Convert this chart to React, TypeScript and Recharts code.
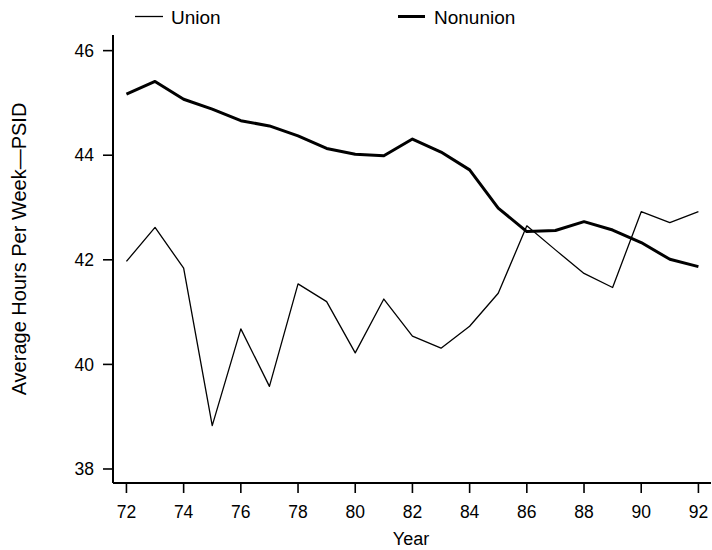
import React from 'react';
import { LineChart, Line, XAxis, YAxis } from 'recharts';

const years = [72, 73, 74, 75, 76, 77, 78, 79, 80, 81, 82, 83, 84, 85, 86, 87, 88, 89, 90, 91, 92];
const unionHours = [41.97, 42.62, 41.84, 38.83, 40.68, 39.58, 41.54, 41.2, 40.22, 41.25, 40.54, 40.31, 40.73, 41.36, 42.65, 42.19, 41.74, 41.47, 42.92, 42.71, 42.92];
const nonunionHours = [45.17, 45.41, 45.07, 44.88, 44.66, 44.56, 44.37, 44.13, 44.02, 43.99, 44.31, 44.06, 43.72, 42.99, 42.54, 42.56, 42.73, 42.57, 42.33, 42.01, 41.87];
const xTicks = [72, 74, 76, 78, 80, 82, 84, 86, 88, 90, 92];
const yTicks = [38, 40, 42, 44, 46];
const seriesNames = ['Union', 'Nonunion'];
const xTitle = 'Year';
const yTitle = 'Average Hours Per Week\u2014PSID';

const data = years.map((y, i) => ({ year: y, union: unionHours[i], nonunion: nonunionHours[i] }));

const FONT = '"Liberation Sans", Arial, Helvetica, sans-serif';

const YTitle = (props: any) => {
  const vb = props.viewBox || { x: 53, y: 35, width: 60, height: 448 };
  const cx = vb.x - 34;
  const cy = vb.y + vb.height / 2 - 10;
  return (
    <text x={cx} y={cy} transform={`rotate(-90 ${cx} ${cy})`} textAnchor="middle" dominantBaseline="central"
      fontSize={20} fontFamily={FONT} fill="#000">{yTitle}</text>
  );
};

const XTitle = (props: any) => {
  const vb = props.viewBox || { x: 113, y: 483, width: 598, height: 67 };
  const cx = vb.x + vb.width / 2 - 1;
  const cy = vb.y + vb.height - 5;
  return (
    <text x={cx} y={cy} textAnchor="middle" fontSize={18} fontFamily={FONT} fill="#000">{xTitle}</text>
  );
};

export default function App() {
  return (
    <div style={{ position: 'absolute', left: 0, top: 0, width: 712, height: 550, background: '#fff' }}>
      <LineChart width={712} height={550} data={data} margin={{ top: 35, right: 1, left: 53, bottom: 0 }}>
        <XAxis
          dataKey="year"
          type="number"
          domain={[71.53, 92.44]}
          allowDataOverflow
          ticks={xTicks}
          height={67}
          tickSize={10}
          tickMargin={13}
          axisLine={{ stroke: '#000', strokeWidth: 2 }}
          tickLine={{ stroke: '#000', strokeWidth: 1.6 }}
          tick={{ fill: '#000', fontSize: 17.5, fontFamily: FONT }}
          label={<XTitle />}
        />
        <YAxis
          type="number"
          domain={[37.732, 46.299]}
          allowDataOverflow
          ticks={yTicks}
          width={60}
          tickSize={10}
          tickMargin={9}
          axisLine={{ stroke: '#000', strokeWidth: 2 }}
          tickLine={{ stroke: '#000', strokeWidth: 1.6 }}
          tick={{ fill: '#000', fontSize: 17.5, fontFamily: FONT }}
          label={<YTitle />}
        />
        <Line type="linear" dataKey="union" name={seriesNames[0]} stroke="#000" strokeWidth={1.3} dot={false} isAnimationActive={false} strokeLinejoin="round" />
        <Line type="linear" dataKey="nonunion" name={seriesNames[1]} stroke="#000" strokeWidth={3} dot={false} isAnimationActive={false} strokeLinejoin="round" />
      </LineChart>
      <div style={{ position: 'absolute', left: 0, top: 0, width: 712, height: 34, fontFamily: FONT, fontSize: 19, color: '#000' }}>
        <svg width={712} height={34} style={{ position: 'absolute', left: 0, top: 0 }}>
          <line x1={135} y1={16.5} x2={163} y2={16.5} stroke="#000" strokeWidth={1.3} />
          <line x1={398} y1={16.5} x2={425} y2={16.5} stroke="#000" strokeWidth={3} />
          <text x={171} y={17} dominantBaseline="central" fontSize={19} fontFamily={FONT} fill="#000">{seriesNames[0]}</text>
          <text x={434} y={17} dominantBaseline="central" fontSize={19} fontFamily={FONT} fill="#000">{seriesNames[1]}</text>
        </svg>
      </div>
    </div>
  );
}
